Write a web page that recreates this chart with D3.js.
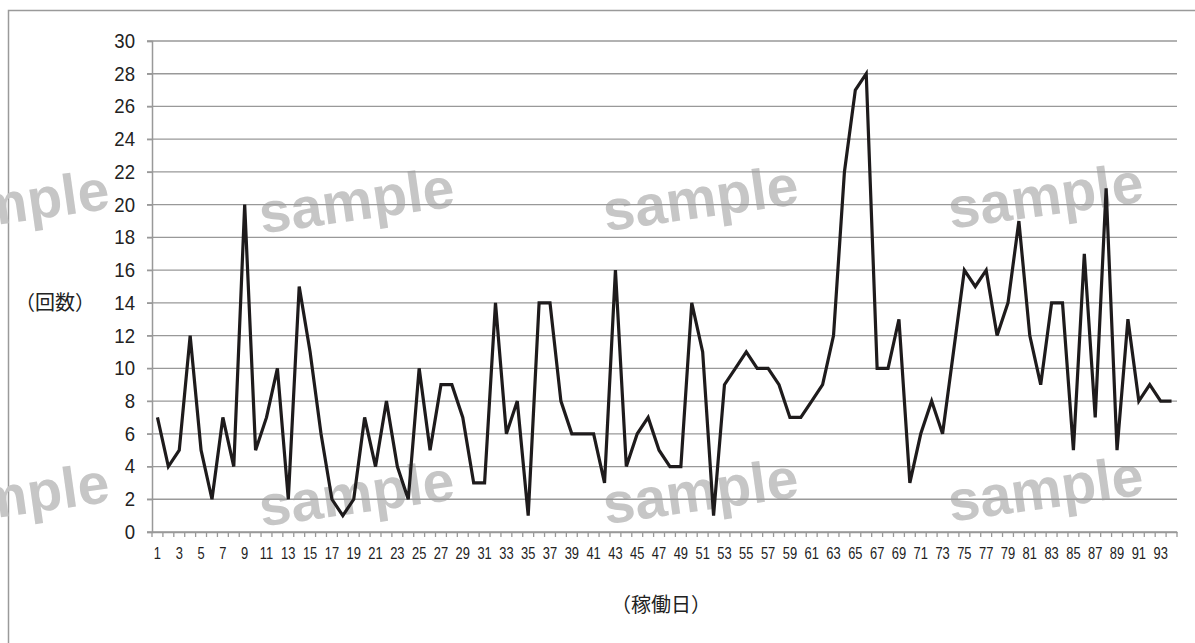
<!DOCTYPE html>
<html>
<head>
<meta charset="utf-8">
<script src="https://cdn.jsdelivr.net/npm/d3@7"></script>
<style>
  body { margin: 0; background: #fff; }
  svg { display: block; }
</style>
</head>
<body>
<div id="chart"></div>
<script>
// operating days 1..94
const days = d3.range(1, 95);
// counts per day
const counts = [
  7, 4, 5, 12, 5, 2, 7, 4, 20, 5,
  7, 10, 2, 15, 11, 6, 2, 1, 2, 7,
  4, 8, 4, 2, 10, 5, 9, 9, 7, 3,
  3, 14, 6, 8, 1, 14, 14, 8, 6, 6,
  6, 3, 16, 4, 6, 7, 5, 4, 4, 14,
  11, 1, 9, 10, 11, 10, 10, 9, 7, 7,
  8, 9, 12, 22, 27, 28, 10, 10, 13, 3,
  6, 8, 6, 11, 16, 15, 16, 12, 14, 19,
  12, 9, 14, 14, 5, 17, 7, 21, 5, 13,
  8, 9, 8, 8
];
const yTicks = d3.range(0, 31, 2);
const xLabels = days.filter(d => d % 2 === 1);
const yTitle = '（回数）';
const xTitle = '（稼働日）';
const watermark = 'sample';

const W = 1195, H = 643;
const svg = d3.select('#chart').append('svg')
  .attr('width', W)
  .attr('height', H);

// outer frame (open to right/bottom like the crop)
svg.append('path')
  .attr('d', `M8.5,${H + 2}V10.5H${W + 2}`)
  .attr('fill', 'none')
  .attr('stroke', '#9a9a9a')
  .attr('stroke-width', 1.5);

const x = d3.scaleBand()
  .domain(days)
  .range([152, 1177]);

const y = d3.scaleLinear()
  .domain([0, 30])
  .range([532, 41]);

// watermarks
const wmX = [12, 357, 701, 1046];
const wmY = [205, 498];
wmY.forEach(wy => {
  wmX.forEach(wx => {
    svg.append('text')
      .attr('transform', `translate(${wx},${wy - (wx - 357) * 0.007}) rotate(-8)`)
      .attr('text-anchor', 'middle')
      .attr('dominant-baseline', 'middle')
      .style('font-family', '"Liberation Sans", Arial, sans-serif')
      .style('font-weight', 'bold')
      .style('font-size', '57px')
      .attr('fill', '#c6c6c6')
      .text(watermark);
  });
});

// grid
svg.append('g')
  .selectAll('line')
  .data(yTicks)
  .enter().append('line')
  .attr('x1', 147)
  .attr('x2', 1177)
  .attr('y1', d => y(d))
  .attr('y2', d => y(d))
  .attr('stroke', '#999')
  .attr('stroke-width', 1.3);

// y axis
const yScaleX = 0.93;
const yAxis = svg.append('g')
  .attr('transform', 'translate(152,0)')
  .call(d3.axisLeft(y).tickValues(yTicks).tickSize(5));
yAxis.select('.domain').attr('stroke', '#999').attr('stroke-width', 1.5);
yAxis.selectAll('.tick line').attr('stroke', '#999').attr('stroke-width', 1.3);
yAxis.selectAll('text')
  .attr('x', -17 / yScaleX)
  .attr('transform', `scale(${yScaleX},1)`)
  .style('font-family', '"Liberation Sans", Arial, sans-serif')
  .style('font-size', '20px')
  .attr('fill', '#222');

// x axis
const xScaleX = 0.76;
const xAxis = svg.append('g')
  .attr('transform', `translate(0,${y(0)})`)
  .call(d3.axisBottom(x).tickValues(xLabels).tickSize(0).tickPadding(15));
xAxis.select('.domain').attr('stroke', '#999').attr('stroke-width', 1.5);
xAxis.selectAll('text')
  .attr('transform', `scale(${xScaleX},1)`)
  .style('font-family', '"Liberation Sans", Arial, sans-serif')
  .style('font-size', '17px')
  .attr('fill', '#222');

// category boundary ticks
svg.append('g')
  .selectAll('line')
  .data(days.concat([95]))
  .enter().append('line')
  .attr('x1', d => (d <= 94 ? x(d) : x(94) + x.step()))
  .attr('x2', d => (d <= 94 ? x(d) : x(94) + x.step()))
  .attr('y1', y(0))
  .attr('y2', y(0) + 5)
  .attr('stroke', '#999')
  .attr('stroke-width', 1.3);

// line
const line = d3.line()
  .x((d, i) => x(days[i]) + x.bandwidth() / 2)
  .y(d => y(d));

svg.append('path')
  .datum(counts)
  .attr('d', line)
  .attr('fill', 'none')
  .attr('stroke', '#1e1b1c')
  .attr('stroke-width', 3.2)
  .attr('stroke-linejoin', 'miter');

// titles
svg.append('text')
  .attr('x', 55)
  .attr('y', 305)
  .attr('text-anchor', 'middle')
  .attr('dominant-baseline', 'middle')
  .style('font-family', '"Noto Sans CJK JP", sans-serif')
  .style('font-size', '20px')
  .attr('fill', '#222')
  .text(yTitle);

svg.append('text')
  .attr('x', 661)
  .attr('y', 607)
  .attr('text-anchor', 'middle')
  .attr('dominant-baseline', 'middle')
  .style('font-family', '"Noto Sans CJK JP", sans-serif')
  .style('font-size', '20px')
  .attr('fill', '#222')
  .text(xTitle);
</script>
</body>
</html>
